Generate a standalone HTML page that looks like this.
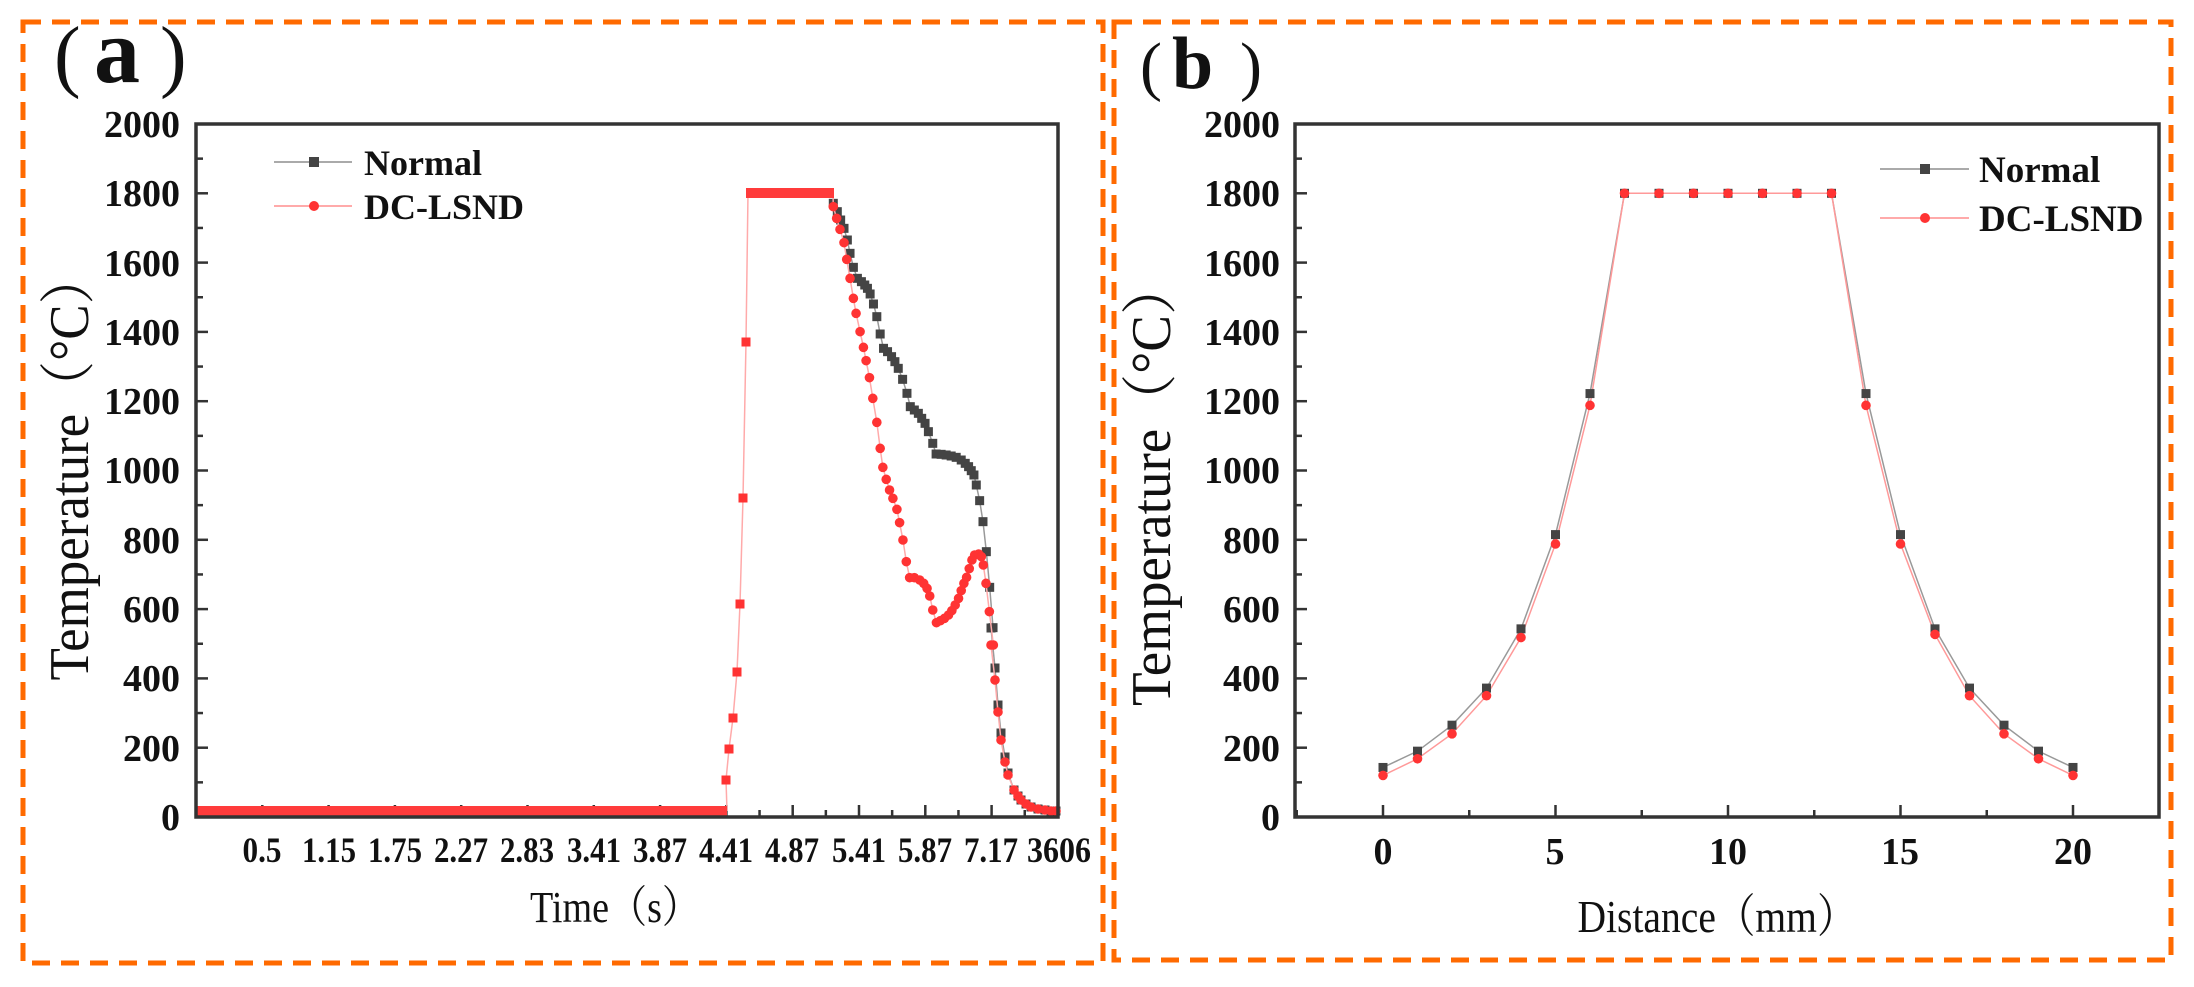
<!DOCTYPE html>
<html><head><meta charset="utf-8"><style>
html,body{margin:0;padding:0;background:#fff;}
svg{display:block;}
text{font-family:"Liberation Serif","Noto Serif CJK SC",serif;fill:#111;}
.b{font-weight:bold;}
</style></head><body>
<svg id="s" width="2194" height="987" viewBox="0 0 2194 987" xmlns="http://www.w3.org/2000/svg">
<rect width="2194" height="987" fill="#fff"/>
<rect x="23" y="22" width="1080" height="941" fill="none" stroke="#ff6a00" stroke-width="5" stroke-dasharray="18 11"/>
<rect x="1114" y="22" width="1057" height="938" fill="none" stroke="#ff6a00" stroke-width="5" stroke-dasharray="18 11"/>

<!-- panel labels -->
<text y="82" font-size="80"><tspan x="54">(</tspan><tspan x="94" class="b" font-size="92">a</tspan><tspan x="160">)</tspan></text>
<text y="88" font-size="66"><tspan x="1140">(</tspan><tspan x="1172" class="b" font-size="74">b</tspan><tspan x="1240">)</tspan></text>

<text transform="translate(88,466) rotate(-90)" text-anchor="middle" font-size="56" textLength="429" lengthAdjust="spacingAndGlyphs">Temperature（°C）</text>
<text transform="translate(1170,483) rotate(-90)" text-anchor="middle" font-size="56" textLength="446" lengthAdjust="spacingAndGlyphs">Temperature（°C）</text>
<text x="615" y="922" text-anchor="middle" font-size="44" textLength="170" lengthAdjust="spacingAndGlyphs">Time（s）</text>
<text x="1717" y="932" text-anchor="middle" font-size="46" textLength="279" lengthAdjust="spacingAndGlyphs">Distance（mm）</text>

<g class="b" font-size="38" text-anchor="end">
<text x="180" y="830">0</text><text x="180" y="761">200</text><text x="180" y="691">400</text>
<text x="180" y="622">600</text><text x="180" y="553">800</text><text x="180" y="483">1000</text>
<text x="180" y="414">1200</text><text x="180" y="345">1400</text><text x="180" y="276">1600</text>
<text x="180" y="206">1800</text><text x="180" y="137">2000</text>
</g>
<g class="b" font-size="38" text-anchor="end">
<text x="1280" y="830">0</text><text x="1280" y="761">200</text><text x="1280" y="691">400</text>
<text x="1280" y="622">600</text><text x="1280" y="553">800</text><text x="1280" y="483">1000</text>
<text x="1280" y="414">1200</text><text x="1280" y="345">1400</text><text x="1280" y="276">1600</text>
<text x="1280" y="206">1800</text><text x="1280" y="137">2000</text>
</g>
<g class="b" font-size="36" text-anchor="middle">
<text x="262" y="862" textLength="39" lengthAdjust="spacingAndGlyphs">0.5</text>
<text x="329" y="862" textLength="54" lengthAdjust="spacingAndGlyphs">1.15</text>
<text x="395" y="862" textLength="54" lengthAdjust="spacingAndGlyphs">1.75</text>
<text x="461" y="862" textLength="54" lengthAdjust="spacingAndGlyphs">2.27</text>
<text x="527" y="862" textLength="54" lengthAdjust="spacingAndGlyphs">2.83</text>
<text x="594" y="862" textLength="54" lengthAdjust="spacingAndGlyphs">3.41</text>
<text x="660" y="862" textLength="54" lengthAdjust="spacingAndGlyphs">3.87</text>
<text x="726" y="862" textLength="54" lengthAdjust="spacingAndGlyphs">4.41</text>
<text x="792" y="862" textLength="54" lengthAdjust="spacingAndGlyphs">4.87</text>
<text x="859" y="862" textLength="54" lengthAdjust="spacingAndGlyphs">5.41</text>
<text x="925" y="862" textLength="54" lengthAdjust="spacingAndGlyphs">5.87</text>
<text x="991" y="862" textLength="54" lengthAdjust="spacingAndGlyphs">7.17</text>
<text x="1059" y="862" textLength="64" lengthAdjust="spacingAndGlyphs">3606</text>
</g>
<g class="b" font-size="38" text-anchor="middle">
<text x="1383" y="864">0</text><text x="1555" y="864">5</text><text x="1728" y="864">10</text>
<text x="1900" y="864">15</text><text x="2073" y="864">20</text>
</g>

<g>
<line x1="274" y1="162" x2="352" y2="162" stroke="#aaa" stroke-width="2"/>
<rect x="309" y="157" width="10" height="10" fill="#444"/>
<text x="364" y="175" class="b" font-size="36">Normal</text>
<line x1="274" y1="206" x2="352" y2="206" stroke="#ffaaaa" stroke-width="2"/>
<circle cx="314" cy="206" r="5" fill="#ff3333"/>
<text x="364" y="219" class="b" font-size="36">DC-LSND</text>

<line x1="1880" y1="169" x2="1969" y2="169" stroke="#aaa" stroke-width="2"/>
<rect x="1920" y="164" width="10" height="10" fill="#444"/>
<text x="1979" y="182" class="b" font-size="37">Normal</text>
<line x1="1880" y1="218" x2="1969" y2="218" stroke="#ffaaaa" stroke-width="2"/>
<circle cx="1925" cy="218" r="5" fill="#ff3333"/>
<text x="1979" y="231" class="b" font-size="37">DC-LSND</text>
</g>
<g id="dyn"></g>
</svg>
<script>
(function(){
var NS="http://www.w3.org/2000/svg",g=document.getElementById("dyn");
function el(t,a){var e=document.createElementNS(NS,t);for(var k in a)e.setAttribute(k,a[k]);g.appendChild(e);return e;}
function ticks(x0,x1,y0,y1,xt,xm){
  for(var v=0;v<=2000;v+=100){var y=817-v*0.3465;var L=(v%200==0)?12:7;
    el("line",{x1:x0,y1:y,x2:x0+L,y2:y,stroke:"#333","stroke-width":2.5});}
  xt.forEach(function(x){el("line",{x1:x,y1:y1,x2:x,y2:y1-12,stroke:"#333","stroke-width":2.5});});
  xm.forEach(function(x){el("line",{x1:x,y1:y1,x2:x,y2:y1-7,stroke:"#333","stroke-width":2.5});});
}
function frame(x0,x1,y0,y1){el("rect",{x:x0,y:y0,width:x1-x0,height:y1-y0,fill:"none",stroke:"#333","stroke-width":3.5});}
function poly(p,c,w){el("polyline",{points:p.map(function(q){return q[0]+","+q[1]}).join(" "),fill:"none",stroke:c,"stroke-width":w});}
function sq(p,c,s){p.forEach(function(q){el("rect",{x:q[0]-s/2,y:q[1]-s/2,width:s,height:s,fill:c});});}
function ci(p,c,r){p.forEach(function(q){el("circle",{cx:q[0],cy:q[1],r:r,fill:c});});}
var xt=[],xm=[];for(var k=1;k<=13;k++){xt.push(196+66.3*k);xm.push(196+66.3*(k-0.5));}
ticks(196,1058,124,817,xt,xm);
var z4=function(a){return a.map(function(q){return [700+q[0]/2.986,150+q[1]/3];});};
var nA=z4([[398,160],[410,185],[420,210],[430,235],[440,270],[448,310],[458,352],[470,385],[482,395],[492,405],[500,415],[508,432],[518,462],[528,500],[538,552],[548,595],[560,605],[572,620],[582,635],[592,655],[605,688],[618,730],[628,770],[640,780],[652,790],[662,805],[672,820],[682,845],[695,880],[705,912],[720,913],[735,915],[750,918],[765,922],[780,930],[792,940],[802,950],[810,962],[818,975],[825,1005],[835,1052],[845,1115],[855,1205],[865,1312],[875,1433]]);
var tail=[[1014,790],[1018,796],[1021,800],[1026,804],[1031,807],[1038,809],[1045,810],[1051,811],[1056,811]];
nA=nA.concat([[991,628],[995,668],[998,705],[1001,733],[1005,757],[1008,773]]).concat(tail);
var rA=z4([[398,170],[408,205],[418,238],[430,278],[438,328],[448,385],[458,445],[466,490],[478,545],[488,592],[496,632],[506,683],[516,745],[528,817],[538,895],[546,952],[556,988],[566,1020],[576,1045],[588,1078],[596,1118],[606,1170],[616,1235],[626,1283],[640,1283],[656,1290],[668,1300],[678,1315],[686,1338],[695,1380],[706,1418],[718,1412],[730,1405],[742,1395],[752,1382],[762,1365],[772,1345],[780,1322],[788,1300],[796,1282],[804,1256],[812,1230],[820,1215],[832,1212],[840,1220],[846,1245],[854,1300],[864,1385],[876,1485]]);
rA=rA.concat([[991,645],[995,680],[998,712],[1001,740],[1005,762],[1008,775]]).concat(tail);
var rise=[[727,811],[726,780],[729,749],[733,718],[737,672],[740,604],[743,498],[746,342],[748,193]];
poly([[833,193]].concat(nA),"#999",1.5);
sq(nA,"#444",9);
poly(rise.concat([[833,193]]),"#ffaaaa",1.5);
poly([[833,193]].concat(rA),"#ffaaaa",1.5);
el("line",{x1:196,y1:811,x2:727,y2:811,stroke:"#ff3b3b","stroke-width":10});
el("line",{x1:746,y1:193,x2:834,y2:193,stroke:"#ff3b3b","stroke-width":10});
sq(rise.slice(1,8),"#ff3333",9);
ci(rA,"#ff3333",4.8);
frame(196,1058,124,817);
var bx=function(d){return 1383+34.5*d;},by=function(v){return 817-v*0.3465;};
var xtb=[],xmb=[];for(var d=0;d<=20;d+=5)xtb.push(bx(d));for(d=-2.5;d<=22.5;d+=5)xmb.push(bx(d));
ticks(1295,2159,124,817,xtb,xmb);
var N=[143,190,265,372,543,815,1222,1800,1800,1800,1800,1800,1800,1800,1222,815,543,372,265,190,143];
var R=[120,168,240,350,518,788,1188,1800,1800,1800,1800,1800,1800,1800,1188,788,527,350,240,168,120];
var pN=N.map(function(v,i){return [bx(i),by(v)];}),pR=R.map(function(v,i){return [bx(i),by(v)];});
poly(pN,"#999",1.5);poly(pR,"#ff9999",1.5);
sq(pN,"#444",9);ci(pR,"#ff3333",4.8);
frame(1295,2159,124,817);
})();
</script>
</body></html>
